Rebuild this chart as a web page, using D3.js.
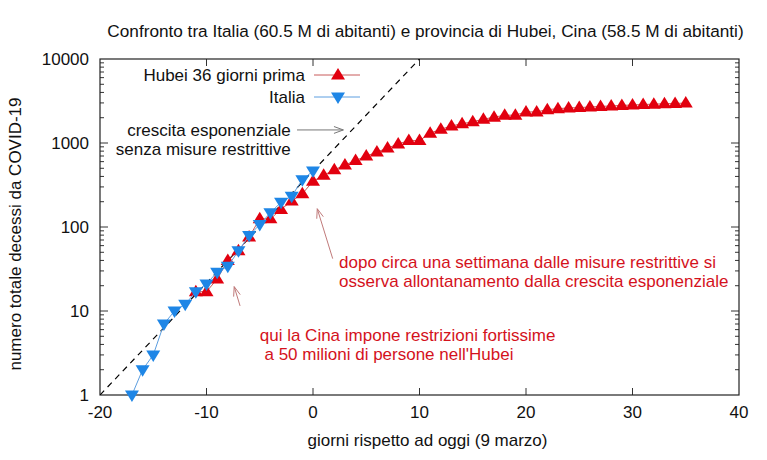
<!DOCTYPE html>
<html lang="en">
<head>
    <meta charset="UTF-8">
    <title>Italia vs Hubei</title>
    <script src="https://d3js.org/d3.v7.min.js"></script>
    <style>
        body { margin: 0; background: #fff; }
        svg { font-family: "Liberation Sans", Arial, sans-serif; }
        .tick-label { font-size: 17px; fill: #111; }
        .axis-title { font-size: 17px; fill: #111; }
        .note-red { font-size: 17px; fill: #d4121c; }
        .note-black { font-size: 17px; fill: #111; }
    </style>
</head>
<body>
    <div id="chart"></div>
    <script>
        // giorni rispetto al 9 marzo
        const italiaDays = [-17, -16, -15, -14, -13, -12, -11, -10, -9, -8, -7, -6, -5, -4, -3, -2, -1, 0];
        const italiaDeaths = [1, 2, 3, 7, 10, 12, 17, 21, 29, 34, 52, 79, 107, 148, 197, 233, 366, 463];

        // Hubei, dal 22 gennaio all'8 marzo, spostato di 36 giorni
        const hubeiDays = d3.range(-11, 36);
        const hubeiDeaths = [17, 17, 24, 40, 52, 76, 125, 125, 162, 204, 249, 350, 414, 479, 549, 618,
            699, 780, 871, 974, 1068, 1068, 1310, 1457, 1596, 1696, 1789, 1921, 2029, 2144, 2144,
            2346, 2346, 2495, 2563, 2615, 2641, 2682, 2727, 2761, 2803, 2835, 2871, 2902, 2931, 2959, 2986];

        // retta esponenziale (crescita senza misure)
        const expDays = [-20, 10];
        const expDeaths = [1, 10000];

        const xTicks = [-20, -10, 0, 10, 20, 30, 40];
        const yTicks = [1, 10, 100, 1000, 10000];

        const title = "Confronto tra Italia (60.5 M di abitanti) e provincia di Hubei, Cina (58.5 M di abitanti)";
        const xTitle = "giorni rispetto ad oggi (9 marzo)";
        const yTitle = "numero totale decessi da COVID-19";

        const W = 767, H = 460;
        const margin = { top: 59, right: 28, bottom: 65, left: 100 };
        const width = W - margin.left - margin.right;
        const height = H - margin.top - margin.bottom;

        const svg = d3.select("#chart").append("svg")
            .attr("width", W)
            .attr("height", H);

        const g = svg.append("g")
            .attr("transform", `translate(${margin.left},${margin.top})`);

        const x = d3.scaleLinear().domain([-20, 40]).range([0, width]);
        const y = d3.scaleLog().domain([1, 10000]).range([height, 0]);

        const red = "#e2000f", blue = "#1e86e6";

        // title
        svg.append("text")
            .attr("x", margin.left + width / 2 + 6)
            .attr("y", 37)
            .attr("text-anchor", "middle")
            .style("font-size", "17.2px")
            .style("fill", "#111")
            .text(title);

        // ticks (gnuplot style, inward, mirrored)
        const minor = [];
        yTicks.slice(0, -1).forEach(t => d3.range(2, 10).forEach(m => minor.push(t * m)));

        const tickG = g.append("g").attr("stroke", "#333").attr("stroke-width", 1);
        xTicks.slice(1, -1).forEach(t => {
            tickG.append("line").attr("x1", x(t)).attr("x2", x(t)).attr("y1", height).attr("y2", height - 7);
            tickG.append("line").attr("x1", x(t)).attr("x2", x(t)).attr("y1", 0).attr("y2", 7);
        });
        yTicks.slice(1, -1).forEach(t => {
            tickG.append("line").attr("x1", 0).attr("x2", 8).attr("y1", y(t)).attr("y2", y(t));
            tickG.append("line").attr("x1", width).attr("x2", width - 8).attr("y1", y(t)).attr("y2", y(t));
        });
        minor.forEach(t => {
            tickG.append("line").attr("x1", 0).attr("x2", 4).attr("y1", y(t)).attr("y2", y(t));
            tickG.append("line").attr("x1", width).attr("x2", width - 4).attr("y1", y(t)).attr("y2", y(t));
        });

        g.append("rect")
            .attr("width", width).attr("height", height)
            .attr("fill", "none").attr("stroke", "#222").attr("stroke-width", 1.2);

        g.selectAll(".xl").data(xTicks).enter().append("text")
            .attr("class", "tick-label")
            .attr("x", d => x(d))
            .attr("y", height + 23)
            .attr("text-anchor", "middle")
            .text(d => d);

        g.selectAll(".yl").data(yTicks).enter().append("text")
            .attr("class", "tick-label")
            .attr("x", -11)
            .attr("y", d => y(d) + 6)
            .attr("text-anchor", "end")
            .text(d => d);

        svg.append("text")
            .attr("class", "axis-title")
            .attr("x", margin.left + width / 2 + 8)
            .attr("y", 446)
            .attr("text-anchor", "middle")
            .text(xTitle);

        svg.append("text")
            .attr("class", "axis-title")
            .attr("transform", `translate(21,${margin.top + height / 2 + 7}) rotate(-90)`)
            .attr("text-anchor", "middle")
            .text(yTitle);

        // clip
        svg.append("defs").append("clipPath").attr("id", "clip")
            .append("rect").attr("width", width).attr("height", height);

        const plot = g.append("g").attr("clip-path", "url(#clip)");

        // exponential guide
        plot.append("path")
            .datum(d3.zip(expDays, expDeaths))
            .attr("d", d3.line().x(d => x(d[0])).y(d => y(d[1])))
            .attr("fill", "none")
            .attr("stroke", "#000")
            .attr("stroke-width", 1.2)
            .attr("stroke-dasharray", "6,5");

        const upTri = "M0,-7L7,4.5L-7,4.5Z";
        const downTri = "M0,7L7,-4.5L-7,-4.5Z";

        const hubei = d3.zip(hubeiDays, hubeiDeaths);
        const italia = d3.zip(italiaDays, italiaDeaths);
        const line = d3.line().x(d => x(d[0])).y(d => y(d[1]));

        const gMarks = g.append("g");
        gMarks.append("path").datum(hubei).attr("d", line)
            .attr("fill", "none").attr("stroke", "#c85a5a").attr("stroke-width", 1);
        gMarks.selectAll(".hb").data(hubei).enter().append("path")
            .attr("d", upTri)
            .attr("transform", d => `translate(${x(d[0])},${y(d[1])})`)
            .attr("fill", red);

        gMarks.append("path").datum(italia).attr("d", line)
            .attr("fill", "none").attr("stroke", "#5c9ee0").attr("stroke-width", 1);
        gMarks.selectAll(".it").data(italia).enter().append("path")
            .attr("d", downTri)
            .attr("transform", d => `translate(${x(d[0])},${y(d[1])})`)
            .attr("fill", blue);

        // legend
        const legend = [
            { label: "Hubei 36 giorni prima", color: red, line: "#c85a5a", shape: upTri, yy: 16 },
            { label: "Italia", color: blue, line: "#5c9ee0", shape: downTri, yy: 38 }
        ];
        legend.forEach(l => {
            g.append("text").attr("class", "tick-label")
                .attr("x", 205).attr("y", l.yy + 6).attr("text-anchor", "end").text(l.label);
            g.append("line").attr("x1", 214).attr("x2", 260).attr("y1", l.yy).attr("y2", l.yy)
                .attr("stroke", l.line).attr("stroke-width", 1);
            g.append("path").attr("d", l.shape)
                .attr("transform", `translate(238,${l.yy})`).attr("fill", l.color);
        });

        // annotations (data coordinates)
        function arrow(x1, y1, x2, y2, color) {
            const X1 = x(x1), Y1 = y(y1), X2 = x(x2), Y2 = y(y2);
            const a = Math.atan2(Y2 - Y1, X2 - X1), L = 10, s = 0.35;
            g.append("line").attr("x1", X1).attr("y1", Y1).attr("x2", X2).attr("y2", Y2)
                .attr("stroke", color).attr("stroke-width", 1);
            g.append("path")
                .attr("d", `M${X2 - L * Math.cos(a - s)},${Y2 - L * Math.sin(a - s)}L${X2},${Y2}L${X2 - L * Math.cos(a + s)},${Y2 - L * Math.sin(a + s)}`)
                .attr("fill", "none").attr("stroke", color).attr("stroke-width", 1);
        }

        function note(lines, xd, yd, anchor, cls) {
            const t = g.append("text").attr("class", cls).attr("text-anchor", anchor)
                .attr("xml:space", "preserve");
            lines.forEach((s, i) => {
                t.append("tspan").attr("x", x(xd)).attr("y", y(yd) + 6 + i * 19).text(s);
            });
        }

        note(["crescita esponenziale", "senza misure restrittive"], -2.1, 1430, "end", "note-black");
        arrow(-1.5, 1430, 2.85, 1430, "#777");

        note(["dopo circa una settimana dalle misure restrittive si",
              "osserva allontanamento dalla crescita esponenziale"], 2.45, 38, "start", "note-red");
        arrow(1.85, 42, 0.4, 165, "#c07a7a");

        note(["qui la Cina impone restrizioni fortissime",
              " a 50 milioni di persone nell'Hubei"], -5.0, 5.2, "start", "note-red");
        arrow(-6.85, 11.5, -7.4, 19.5, "#c07a7a");
    </script>
</body>
</html>
